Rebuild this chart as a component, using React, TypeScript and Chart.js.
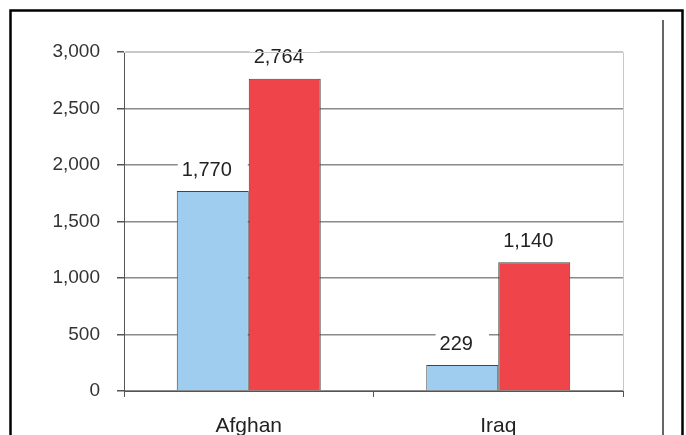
import React, { useEffect, useRef } from "react";
import { Chart, registerables } from "chart.js";

Chart.register(...registerables);

const categories = ["Afghan", "Iraq"];
const seriesA = [1770, 229];
const seriesB = [2764, 1140];
const yTicks = [0, 500, 1000, 1500, 2000, 2500, 3000];

const FONT = "'Liberation Sans', Arial, sans-serif";

const framePlugin = {
  id: "frame",
  afterDraw(chart: any) {
    const ctx = chart.ctx;
    const { left, right, top, bottom } = chart.chartArea;
    ctx.save();
    ctx.strokeStyle = "#c8c8c8";
    ctx.lineWidth = 1;
    ctx.beginPath();
    ctx.moveTo(left, top + 0.5);
    ctx.lineTo(right + 0.5, top + 0.5);
    ctx.lineTo(right + 0.5, bottom);
    ctx.stroke();
    ctx.strokeStyle = "#000";
    ctx.lineWidth = 2.5;
    ctx.beginPath();
    ctx.moveTo(10.5, 460);
    ctx.lineTo(10.5, 10.5);
    ctx.lineTo(682.5, 10.5);
    ctx.lineTo(682.5, 460);
    ctx.stroke();
    ctx.strokeStyle = "#333";
    ctx.lineWidth = 1.5;
    ctx.beginPath();
    ctx.moveTo(663, 20);
    ctx.lineTo(663, 440);
    ctx.stroke();
    ctx.restore();
  },
};

const labelPlugin = {
  id: "valueLabels",
  afterDatasetsDraw(chart: any) {
    const ctx = chart.ctx;
    ctx.save();
    ctx.font = `20px ${FONT}`;
    ctx.textAlign = "center";
    ctx.textBaseline = "middle";
    chart.data.datasets.forEach((ds: any, di: number) => {
      const meta = chart.getDatasetMeta(di);
      meta.data.forEach((bar: any, i: number) => {
        const v = ds.data[i] as number;
        const text = v.toLocaleString("en-US");
        const x = bar.x;
        const y = bar.y - 21;
        const w = ctx.measureText(text).width + 20;
        ctx.fillStyle = "#fff";
        ctx.fillRect(x - w / 2, y - 12, w, 24);
        ctx.fillStyle = "#222";
        ctx.fillText(text, x - 6, y);
      });
    });
    ctx.restore();
  },
};

export default function App() {
  const ref = useRef<HTMLCanvasElement>(null);
  useEffect(() => {
    document.body.style.margin = "0";
    const chart = new Chart(ref.current!, {
      type: "bar",
      data: {
        labels: categories,
        datasets: [
          {
            data: seriesA,
            backgroundColor: "#9ECDF0",
            borderColor: "#444",
            borderWidth: 1,
            categoryPercentage: 0.577,
            barPercentage: 1,
          },
          {
            data: seriesB,
            backgroundColor: "#EF454A",
            borderColor: "#444",
            borderWidth: 1,
            categoryPercentage: 0.577,
            barPercentage: 1,
          },
        ],
      },
      options: {
        responsive: false,
        animation: false,
        layout: { padding: { left: 0, right: 63, top: 52, bottom: 0 } },
        plugins: { legend: { display: false }, tooltip: { enabled: false } },
        scales: {
          x: {
            grid: {
              offset: true,
              drawOnChartArea: false,
              tickLength: 6,
              color: "#555",
            },
            border: { color: "#555", width: 1 },
            ticks: {
              font: { family: FONT, size: 21 },
              color: "#222",
              padding: 17,
            },
            afterFit: (s: any) => {
              s.height = 44;
            },
          },
          y: {
            min: 0,
            max: 3000,
            afterBuildTicks: (s: any) => {
              s.ticks = yTicks.map((v) => ({ value: v }));
            },
            grid: {
              color: (c: any) => (c.tick && c.tick.value === 3000 ? "#c8c8c8" : "#8a8a86"),
              tickColor: "#555",
              tickLength: 7,
              lineWidth: 1.5,
            },
            border: { color: "#555", width: 1 },
            ticks: {
              font: { family: FONT, size: 19 },
              color: "#333",
              padding: 17,
              callback: (v: any) => Number(v).toLocaleString("en-US"),
            },
            afterFit: (s: any) => {
              s.width = 124;
            },
          },
        },
      },
      plugins: [labelPlugin, framePlugin],
    });
    return () => chart.destroy();
  }, []);
  return <canvas ref={ref} width={686} height={435} style={{ display: "block" }} />;
}
